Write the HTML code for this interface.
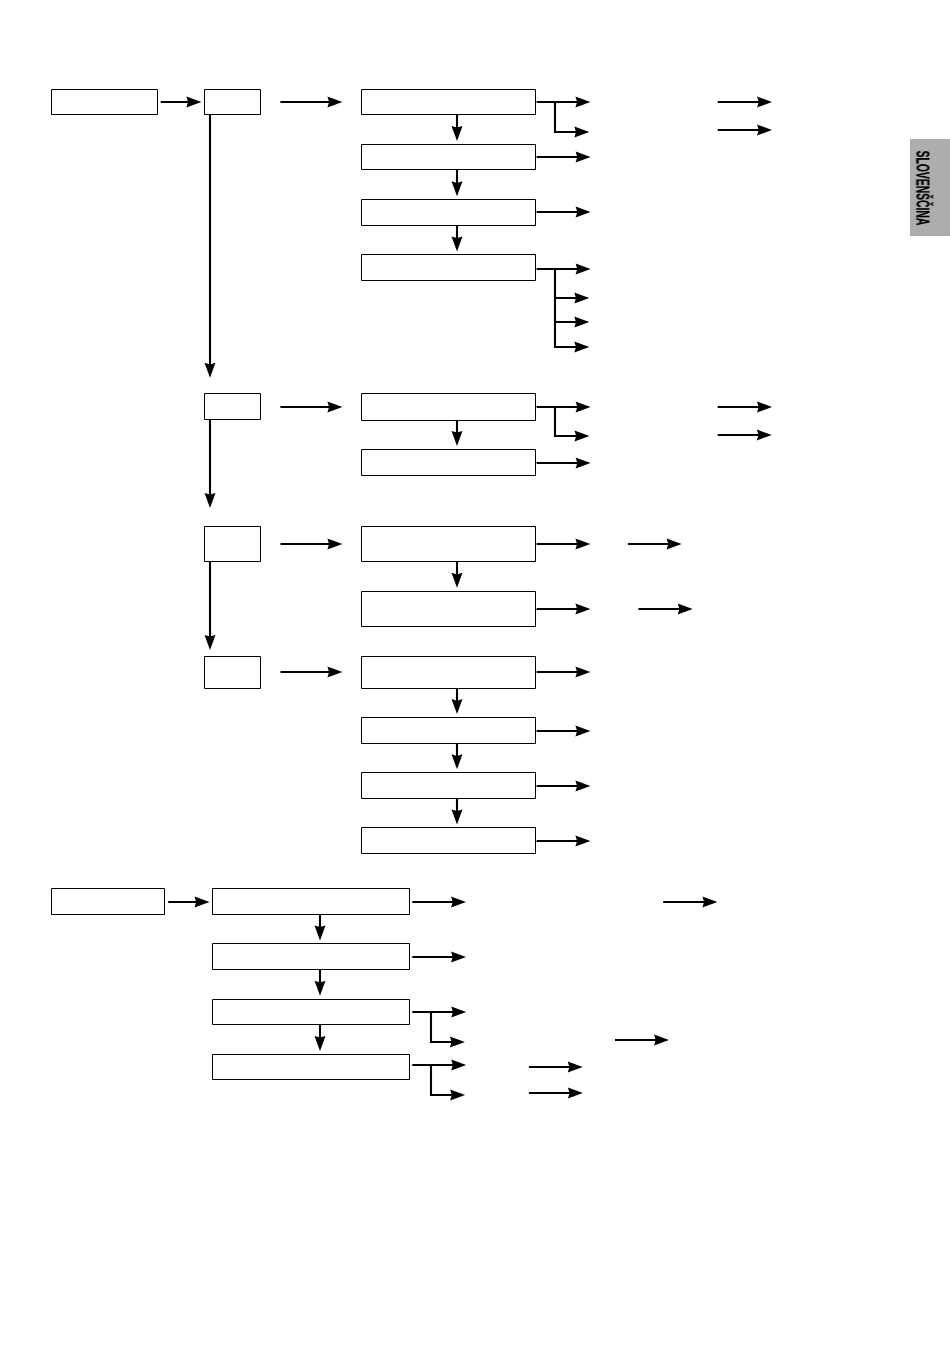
<!DOCTYPE html>
<html><head><meta charset="utf-8"><style>
html,body{margin:0;padding:0;background:#fff;}
body{width:950px;height:1348px;position:relative;overflow:hidden;}
svg{position:absolute;left:0;top:0;}
.tab{position:absolute;left:910px;top:139px;width:40px;height:97px;background:#adadad;}
.tt{position:absolute;left:922.7px;top:187.5px;transform:translate(-50%,-50%) rotate(90deg) scaleX(0.545);will-change:transform;-webkit-text-stroke:0.25px #000;font-family:"Liberation Sans",sans-serif;font-weight:bold;font-size:19px;line-height:19px;white-space:nowrap;color:#000;}
</style></head><body>
<svg width="950" height="1348" viewBox="0 0 950 1348">
<g fill="none" stroke="#000" stroke-width="1" stroke-linejoin="round">
<rect x="51.5" y="89.5" width="106.00" height="25.00"/>
<rect x="204.5" y="89.5" width="56.00" height="25.00"/>
<rect x="361.5" y="89.5" width="174.00" height="25.00"/>
<rect x="361.5" y="144.5" width="174.00" height="25.00"/>
<rect x="361.5" y="199.5" width="174.00" height="26.00"/>
<rect x="361.5" y="254.5" width="174.00" height="26.00"/>
<rect x="204.5" y="393.5" width="56.00" height="26.00"/>
<rect x="361.5" y="393.5" width="174.00" height="27.00"/>
<rect x="361.5" y="449.5" width="174.00" height="26.00"/>
<rect x="204.5" y="526.5" width="56.00" height="35.00"/>
<rect x="361.5" y="526.5" width="174.00" height="35.00"/>
<rect x="361.5" y="591.5" width="174.00" height="35.00"/>
<rect x="204.5" y="656.5" width="56.00" height="32.00"/>
<rect x="361.5" y="656.5" width="174.00" height="32.00"/>
<rect x="361.5" y="717.5" width="174.00" height="26.00"/>
<rect x="361.5" y="772.5" width="174.00" height="26.00"/>
<rect x="361.5" y="827.5" width="174.00" height="26.00"/>
<rect x="51.5" y="888.5" width="113.00" height="26.00"/>
<rect x="212.5" y="888.5" width="197.00" height="26.00"/>
<rect x="212.5" y="943.5" width="197.00" height="26.00"/>
<rect x="212.5" y="999.5" width="197.00" height="25.00"/>
<rect x="212.5" y="1054.5" width="197.00" height="25.00"/>
</g>
<path fill="none" stroke="#000" stroke-width="2.1" d="M160.7 102H188.60M280.4 102H329.60M536.6 102H577.60M554.0 132H576.50M717.7 102H759.20M717.7 130H759.20M536.6 157H577.80M536.6 212H577.80M536.6 269H577.80M554.0 298H576.50M554.0 322H576.50M554.0 347H576.50M280.4 407H329.60M536.6 407H577.80M554.0 436H576.70M717.7 407H759.20M717.7 435H759.00M536.6 463H577.80M280.5 544H329.60M536.6 544H577.60M627.9 544H668.80M536.6 609H577.60M638.4 609H679.90M280.5 672H329.60M536.6 672H577.60M536.6 731H577.60M536.6 786H577.60M536.6 841H577.60M168.2 902H196.70M412.3 902H453.20M663.2 902H704.60M412.3 957H453.20M412.3 1012H453.40M430.0 1042H452.10M615.0 1040H656.20M412.3 1065H453.40M430.0 1095H452.30M528.9 1067H569.90M528.9 1093H570.10M457 115V128.10M457 170V183.50M457 226V238.60M210 115V364.90M457 420V433.10M210 420V495.10M457 562V575.00M210 562V637.10M457 689V701.30M457 744V756.40M457 799V811.60M320 915V927.60M320 970V983.00M320 1025V1038.10M555 101V133.05M555 268V348.05M555 406V437.05M431 1011V1043.05M431 1064V1096.05"/>
<path fill="#000" stroke="none" d="M201.4 102L186.40 96.50L188.10 102L186.40 107.50ZM342.40000000000003 102L327.40 96.50L329.10 102L327.40 107.50ZM590.4 102L575.40 96.50L577.10 102L575.40 107.50ZM589.3000000000001 132L574.30 126.50L576.00 132L574.30 137.50ZM772.0 102L757.00 96.50L758.70 102L757.00 107.50ZM772.0 130L757.00 124.50L758.70 130L757.00 135.50ZM590.6 157L575.60 151.50L577.30 157L575.60 162.50ZM590.6 212L575.60 206.50L577.30 212L575.60 217.50ZM590.6 269L575.60 263.50L577.30 269L575.60 274.50ZM589.3000000000001 298L574.30 292.50L576.00 298L574.30 303.50ZM589.3000000000001 322L574.30 316.50L576.00 322L574.30 327.50ZM589.3000000000001 347L574.30 341.50L576.00 347L574.30 352.50ZM342.40000000000003 407L327.40 401.50L329.10 407L327.40 412.50ZM590.6 407L575.60 401.50L577.30 407L575.60 412.50ZM589.5 436L574.50 430.50L576.20 436L574.50 441.50ZM772.0 407L757.00 401.50L758.70 407L757.00 412.50ZM771.8000000000001 435L756.80 429.50L758.50 435L756.80 440.50ZM590.6 463L575.60 457.50L577.30 463L575.60 468.50ZM342.40000000000003 544L327.40 538.50L329.10 544L327.40 549.50ZM590.4 544L575.40 538.50L577.10 544L575.40 549.50ZM681.6 544L666.60 538.50L668.30 544L666.60 549.50ZM590.4 609L575.40 603.50L577.10 609L575.40 614.50ZM692.7 609L677.70 603.50L679.40 609L677.70 614.50ZM342.40000000000003 672L327.40 666.50L329.10 672L327.40 677.50ZM590.4 672L575.40 666.50L577.10 672L575.40 677.50ZM590.4 731L575.40 725.50L577.10 731L575.40 736.50ZM590.4 786L575.40 780.50L577.10 786L575.40 791.50ZM590.4 841L575.40 835.50L577.10 841L575.40 846.50ZM209.5 902L194.50 896.50L196.20 902L194.50 907.50ZM466.0 902L451.00 896.50L452.70 902L451.00 907.50ZM717.4 902L702.40 896.50L704.10 902L702.40 907.50ZM466.0 957L451.00 951.50L452.70 957L451.00 962.50ZM466.20000000000005 1012L451.20 1006.50L452.90 1012L451.20 1017.50ZM464.90000000000003 1042L449.90 1036.50L451.60 1042L449.90 1047.50ZM669.0 1040L654.00 1034.50L655.70 1040L654.00 1045.50ZM466.20000000000005 1065L451.20 1059.50L452.90 1065L451.20 1070.50ZM465.1 1095L450.10 1089.50L451.80 1095L450.10 1100.50ZM582.7 1067L567.70 1061.50L569.40 1067L567.70 1072.50ZM582.9 1093L567.90 1087.50L569.60 1093L567.90 1098.50ZM457 140.9L451.50 125.90L457 127.60L462.50 125.90ZM457 196.29999999999998L451.50 181.30L457 183.00L462.50 181.30ZM457 251.4L451.50 236.40L457 238.10L462.50 236.40ZM210 377.70000000000005L204.50 362.70L210 364.40L215.50 362.70ZM457 445.90000000000003L451.50 430.90L457 432.60L462.50 430.90ZM210 507.90000000000003L204.50 492.90L210 494.60L215.50 492.90ZM457 587.8000000000001L451.50 572.80L457 574.50L462.50 572.80ZM210 649.9L204.50 634.90L210 636.60L215.50 634.90ZM457 714.1L451.50 699.10L457 700.80L462.50 699.10ZM457 769.2L451.50 754.20L457 755.90L462.50 754.20ZM457 824.4L451.50 809.40L457 811.10L462.50 809.40ZM320 940.4L314.50 925.40L320 927.10L325.50 925.40ZM320 995.8000000000001L314.50 980.80L320 982.50L325.50 980.80ZM320 1050.8999999999999L314.50 1035.90L320 1037.60L325.50 1035.90Z"/>
</svg>
<div class="tab"></div>
<div class="tt">SLOVENŠČINA</div>
</body></html>
